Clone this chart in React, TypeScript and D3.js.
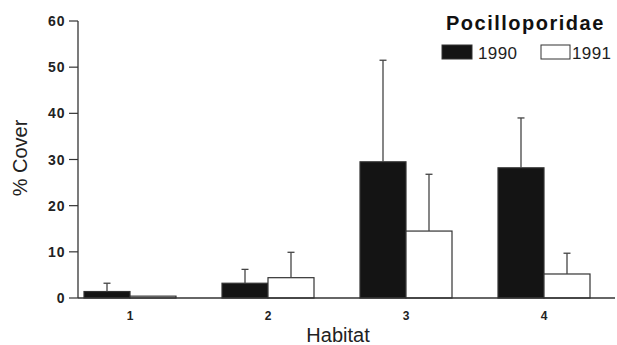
import React from "react";
import * as d3 from "d3";

const habitats = ["1", "2", "3", "4"];
const series = ["1990", "1991"];
const mean1990 = [1.4, 3.2, 29.5, 28.2];
const err1990 = [3.2, 6.2, 51.5, 39];
const mean1991 = [0.4, 4.4, 14.5, 5.2];
const err1991 = [0.4, 9.9, 26.8, 9.7];
const yTicks = [0, 10, 20, 30, 40, 50, 60];

const W = 617;
const H = 345;

export default function App() {
  const x = d3.scaleBand<string>().domain(habitats).range([61, 613]).paddingInner(1 / 3).paddingOuter(1 / 6);
  const xs = d3.scaleBand<string>().domain(series).range([0, x.bandwidth()]);
  const y = d3.scaleLinear().domain([0, 60]).range([298, 21]);
  const font = "Liberation Sans, Arial, Helvetica, sans-serif";
  const axisColor = "#333";
  const data = [
    { s: "1990", m: mean1990, e: err1990, fill: "#141414" },
    { s: "1991", m: mean1991, e: err1991, fill: "#fff" },
  ];
  return (
    <svg width={W} height={H} style={{ position: "absolute", left: 0, top: 0, background: "#fff" }} fontFamily={font}>
      {/* bars */}
      {data.map((d) =>
        habitats.map((h, i) => {
          const bx = (x(h) as number) + (xs(d.s) as number);
          const bw = xs.bandwidth();
          const cx = bx + bw / 2;
          const top = y(d.m[i]);
          const etop = y(d.e[i]);
          return (
            <g key={d.s + h}>
              <rect x={bx} y={top} width={bw} height={y(0) - top} fill={d.fill} stroke="#333" strokeWidth={1.2} />
              {d.e[i] > d.m[i] + 0.1 && (
                <g stroke="#444" strokeWidth={1.3}>
                  <line x1={cx} x2={cx} y1={top} y2={etop} />
                  <line x1={cx - 3.5} x2={cx + 3.5} y1={etop} y2={etop} />
                </g>
              )}
            </g>
          );
        })
      )}
      {/* y axis */}
      <line x1={78} x2={78} y1={y(60)} y2={y(0)} stroke={axisColor} strokeWidth={1.3} />
      {yTicks.map((t) => (
        <g key={t}>
          <line x1={69} x2={78} y1={y(t)} y2={y(t)} stroke={axisColor} strokeWidth={1.2} />
          <text
            x={65.5}
            y={y(t)}
            dy="0.36em"
            textAnchor="end"
            fontSize={14}
            fontWeight="bold"
            letterSpacing={1}
            fill="#222"
          >
            {t}
          </text>
        </g>
      ))}
      {/* x axis */}
      <line x1={78} x2={615} y1={y(0)} y2={y(0)} stroke={axisColor} strokeWidth={1.3} />
      {habitats.map((h) => (
        <text key={h} x={(x(h) as number) + x.bandwidth() / 2} y={320} textAnchor="middle" fontSize={12} fontWeight="bold" fill="#222">
          {h}
        </text>
      ))}
      <text x={338} y={342} textAnchor="middle" fontSize={20} fill="#222">
        Habitat
      </text>
      <text transform={`translate(26.5,158) rotate(-90)`} textAnchor="middle" fontSize={20} fill="#222">
        % Cover
      </text>
      {/* legend */}
      <text x={446} y={30} fontSize={20} fontWeight="bold" letterSpacing={1.5} fill="#111">
        Pocilloporidae
      </text>
      <rect x={442} y={45} width={30} height={14} fill="#141414" stroke="#333" />
      <text x={478} y={58.5} fontSize={17} letterSpacing={0.4} fill="#222">1990</text>
      <rect x={541} y={45} width={29} height={14} fill="#fff" stroke="#333" />
      <text x={572} y={58.5} fontSize={17} letterSpacing={0.4} fill="#222">1991</text>
    </svg>
  );
}
